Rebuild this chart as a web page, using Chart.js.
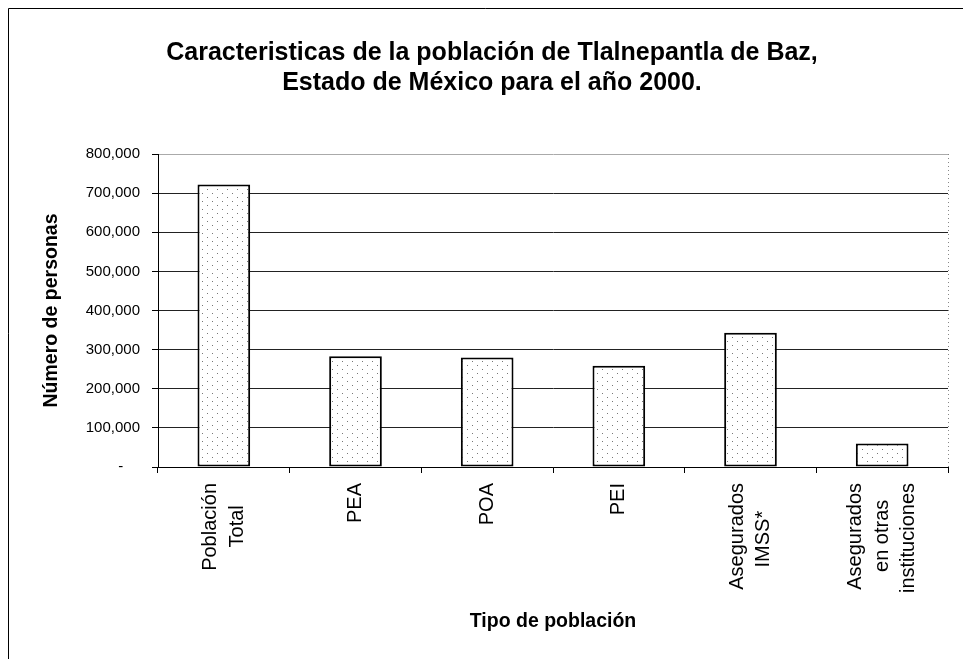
<!DOCTYPE html>
<html>
<head>
<meta charset="utf-8">
<script src="https://cdn.jsdelivr.net/npm/chart.js@4.4.0/dist/chart.umd.min.js"></script>
<style>
body{margin:0;background:#fff;}
canvas{display:block;}
</style>
</head>
<body>
<canvas id="Plot" width="963" height="659"></canvas>
<script>
var categorias = [["Población","Total"],"PEA","POA","PEI",["Asegurados","IMSS*"],["Asegurados","en otras","instituciones"]];
var personas = [722000,283000,280000,259000,343000,60000];
var titulo = ["Caracteristicas de la población de Tlalnepantla de Baz,","Estado de México para el año 2000."];
var tituloX = "Tipo de población";
var tituloY = "Número de personas";

var F = "'Liberation Sans', Arial, sans-serif";
var LH = 26.4;   // interlineado de las etiquetas del eje x
var ctx = document.getElementById("Plot").getContext('2d');

// relleno punteado de las barras
function puntos(){
  var c = document.createElement('canvas');
  c.width = 10; c.height = 8;
  var g = c.getContext('2d');
  g.fillStyle = '#fff'; g.fillRect(0,0,10,8);
  g.fillStyle = '#777';
  g.fillRect(2,1,1,1);
  g.fillRect(7,5,1,1);
  return ctx.createPattern(c,'repeat');
}

// centra las etiquetas de varias lineas sobre su marca (medio interlineado + lineas vacias)
// y centra cada linea respecto a la mas larga (texto girado alineado a la derecha)
function etiqueta(v, i){
  var l = categorias[i];
  var lineas = Array.isArray(l) ? l : [l];
  ctx.save();
  ctx.font = "20px " + F;
  var anchos = lineas.map(function(t){ return ctx.measureText(t).width; });
  var esp = ctx.measureText(' ').width;
  ctx.restore();
  var maxW = Math.max.apply(null, anchos);
  var out = [];
  for (var k = 0; k < 3 - lineas.length; k++) out.push('');
  for (var j = 0; j < lineas.length; j++){
    if (j > 0) out.push('');
    var n = Math.round((maxW - anchos[j]) / 2 / esp);
    out.push(lineas[j] + ' '.repeat(n));
  }
  return out;
}

var marco = {
  id:'marco',
  beforeDraw: function(chart){
    var c = chart.ctx, a = chart.chartArea;
    c.save();
    c.strokeStyle = '#000'; c.lineWidth = 1;
    c.beginPath();
    c.moveTo(8.5,659); c.lineTo(8.5,8.5); c.lineTo(963,8.5);
    c.stroke();
    c.setLineDash([1,3]); c.strokeStyle = '#888';
    c.beginPath();
    c.moveTo(a.right+0.5,a.top); c.lineTo(a.right+0.5,a.bottom);
    c.stroke();
    c.restore();
  }
};

var myChart = new Chart(ctx, {
  type: 'bar',
  data: {
    labels: categorias,
    datasets: [{
      data: personas,
      backgroundColor: puntos(),
      borderColor: '#000',
      borderWidth: 2,
      borderSkipped: false,
      barPercentage: 0.4,
      categoryPercentage: 1.0
    }]
  },
  plugins: [marco],
  options: {
    responsive: false,
    animation: false,
    layout: {padding: {left:36, right:15, top:8, bottom:0}},
    plugins: {
      legend: {display:false},
      tooltip: {enabled:false},
      title: {
        display: true,
        text: titulo,
        color: '#000',
        font: {family:F, size:25, weight:'bold', lineHeight:1.2},
        padding: {top:30, bottom:56}
      }
    },
    scales: {
      x: {
        grid: {display:true, drawOnChartArea:false, drawTicks:true, tickLength:6, color:'#000', offset:true},
        border: {color:'#000', width:1},
        ticks: {
          color:'#000',
          font:{family:F, size:20, lineHeight:LH/2/20},
          maxRotation:90, minRotation:90,
          padding:10,
          labelOffset:-LH,
          autoSkip:false,
          callback: etiqueta
        },
        title: {display:true, text:tituloX, color:'#000', font:{family:F, size:19.5, weight:'bold'}, padding:{top:0, bottom:26}},
        afterFit: function(s){ s.height = 192; s.paddingLeft = 0; s.paddingRight = 0; }
      },
      y: {
        min: 0,
        max: 800000,
        ticks: {
          stepSize: 100000,
          color: '#000',
          font: {family:F, size:15},
          padding: 12,
          callback: function(v){ return v === 0 ? '-    ' : v.toLocaleString('en-US'); }
        },
        grid: {
          color: function(c){ return (c.tick && c.tick.value === 800000) ? '#aaa' : '#222'; },
          tickColor: '#000',
          tickLength: 6
        },
        border: {color:'#000'},
        title: {display:true, text:tituloY, color:'#000', font:{family:F, size:19.5, weight:'bold'}, padding:{top:4, bottom:0}},
        afterFit: function(s){ s.width = 122; }
      }
    }
  }
});
</script>
</body>
</html>
